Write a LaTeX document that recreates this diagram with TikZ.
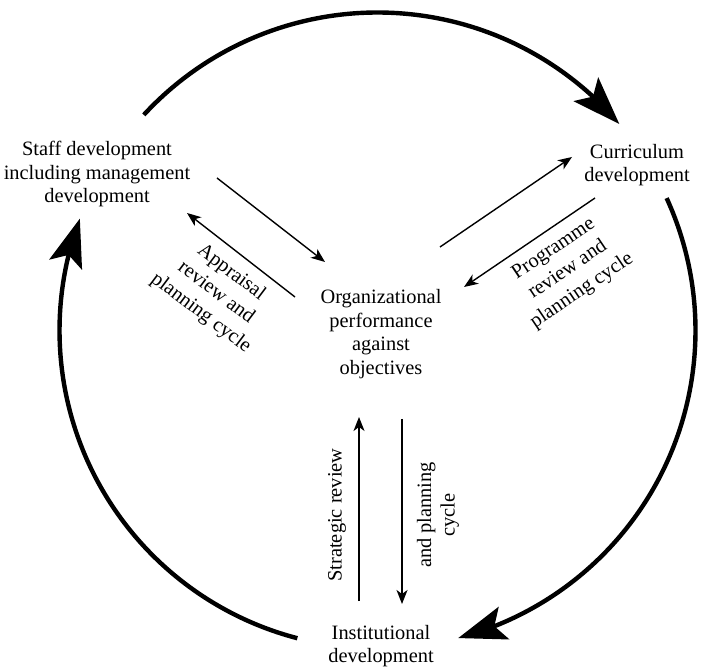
\documentclass[tikz,border=0pt]{standalone}
\usepackage{fontspec}
\setmainfont{Liberation Serif}
\usetikzlibrary{arrows.meta,bending}

\begin{document}
\begin{tikzpicture}[x=0.5pt, y=0.5pt, >={Stealth[length=7pt, width=5.5pt, inset=2pt]},
  lbl/.style={align=center, inner sep=0pt, font=\fontsize{10.2}{11.8}\selectfont},
  tilt/.style={lbl, font=\fontsize{10.2}{12.6}\selectfont},
  cyc/.style={line width=2.2pt, -{Stealth[length=24pt, width=17pt, inset=5pt]}},
  link/.style={->, line width=0.7pt}]
  \useasboundingbox (0,0) rectangle (704,668);
  \coordinate (c) at (377.5,337.5);
  \node[lbl] (staff) at (97,494) {Staff development\\including management\\development};
  \node[lbl] (curr) at (637,503) {Curriculum\\development};
  \node[lbl] (org) at (381,334) {Organizational\\performance\\against\\objectives};
  \node[lbl] (inst) at (381,22) {Institutional\\development};
  \node[tilt, rotate=-37] (appr) at (216,375) {Appraisal\\review and\\planning cycle};
  \node[tilt, rotate=34] (prog) at (568,398) {Programme\\review and\\planning cycle};
  \node[lbl, rotate=90] (strat) at (337,153) {Strategic review};
  \node[lbl, rotate=90] (plan) at (438,153) {and planning\\cycle};
  % outer cycle
  \draw[cyc] ([shift={(137.3:318)}]c) arc[start angle=137.3, end angle=40.5, radius=318];
  \draw[cyc] ([shift={(24.6:318)}]c) arc[start angle=24.6, end angle=-75.3, radius=318];
  \draw[cyc] ([shift={(255.4:318)}]c) arc[start angle=255.4, end angle=159.4, radius=318];
  % inner links
  \coordinate (s1) at (217,490); \coordinate (o1) at (325,406);
  \coordinate (o2) at (295,371); \coordinate (s2) at (187,455);
  \coordinate (o3) at (440,421); \coordinate (c3) at (572,511);
  \coordinate (c4) at (595,470); \coordinate (o4) at (464,381);
  \coordinate (i5) at (359,67);  \coordinate (o5) at (359,251);
  \coordinate (o6) at (402,249); \coordinate (i6) at (402,64);
  \draw[link] (s1) -- (o1);
  \draw[link] (o2) -- (s2);
  \draw[link] (o3) -- (c3);
  \draw[link] (c4) -- (o4);
  \draw[link] (i5) -- (o5);
  \draw[link] (o6) -- (i6);
\end{tikzpicture}
\end{document}
